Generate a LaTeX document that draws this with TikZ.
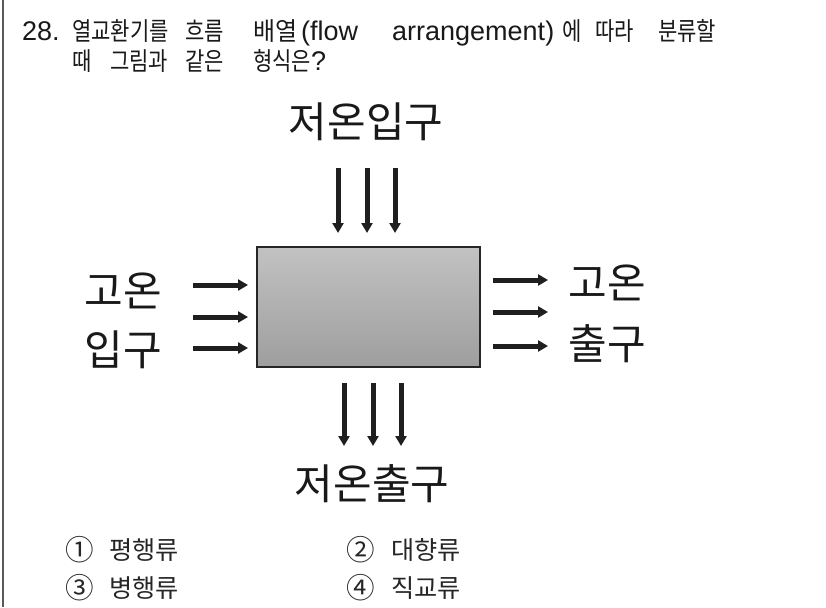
\documentclass[tikz,border=0pt]{standalone}
\usepackage{graphicx}
\usepackage{fontspec}
\setmainfont{Noto Sans CJK KR}
\newfontfamily\tlfont{Liberation Sans}
\newfontfamily\krfont{Noto Sans CJK KR}
\newcommand\tk[1]{\scalebox{0.5}[0.6]{\krfont\fontsize{42}{46}\selectfont #1}}
\newcommand\tkw[1]{\scalebox{0.57}[0.6]{\krfont\fontsize{42}{46}\selectfont #1}}
\newcommand\tko[1]{\scalebox{0.6}[0.6]{\krfont\fontsize{42}{46}\selectfont #1}}
\newcommand\tkn[1]{\scalebox{0.68}[0.68]{\krfont\fontsize{42}{46}\selectfont #1}}
\newcommand\tl[1]{{\tlfont\fontsize{27}{30}\selectfont #1}}
\newcommand\wbox[2]{\makebox[#1pt][l]{#2}}
\usetikzlibrary{arrows.meta}
\tikzset{
  flowarr/.style={draw=black!88, line width=5pt, -{Triangle[length=10pt,width=11pt]}},
  biglabel/.style={font=\krfont\fontsize{42}{46}\selectfont, inner sep=0pt, text=black!90},
  titletext/.style={inner sep=0pt, anchor=base west, text=black!90},
  optnum/.style={inner sep=0pt, text=black!85},
  opttext/.style={inner sep=0pt, anchor=west, text=black!85},
  hxbox/.style={draw=black!85, line width=2pt, minimum width=223pt, minimum height=120pt,
    shading=axis, shading angle=-25, top color=black!24, middle color=black!31, bottom color=black!38}
}
\begin{document}
\begin{tikzpicture}[x=1pt,y=-1pt]
\useasboundingbox (0,0) rectangle (826,607);
\fill[white] (0,0) rectangle (826,607);
\draw[line width=1.8pt, black!65] (3,0) -- (3,607);

% title
\node[titletext] (title1) at (22,41) {\wbox{50}{\tl{28.}}\wbox{113}{\tk{열교환기를}}\wbox{68}{\tk{흐름}}\wbox{48}{\tkw{배열}}\wbox{91}{\tl{(flow}}\wbox{170}{\tl{arrangement)}}\wbox{33}{\tk{에}}\wbox{63}{\tk{따라}}\tk{분류할}};
\node[titletext] (title2) at (72,71) {\wbox{38}{\tk{때}}\wbox{75}{\tk{그림과}}\wbox{68}{\tk{같은}}\tk{형식은}\tl{?}};

% heat exchanger body
\node[hxbox] (hx) at (368.5,307) {};

% labels
\node[biglabel] (cin) at (366,122) {저온입구};
\node[biglabel] (cout) at (372,484) {저온출구};
\node[biglabel] (hin1) at (123,291) {고온};
\node[biglabel] (hin2) at (123,350) {입구};
\node[biglabel] (hout1) at (607,283) {고온};
\node[biglabel] (hout2) at (607,344) {출구};

% cold inlet arrows
\coordinate (ci1s) at (338,168); \coordinate (ci1e) at (338,233);
\coordinate (ci2s) at (367,168); \coordinate (ci2e) at (367,233);
\coordinate (ci3s) at (395,168); \coordinate (ci3e) at (395,233);
\draw[flowarr] (ci1s) -- (ci1e);
\draw[flowarr] (ci2s) -- (ci2e);
\draw[flowarr] (ci3s) -- (ci3e);

% cold outlet arrows
\coordinate (co1s) at (344,383); \coordinate (co1e) at (344,446);
\coordinate (co2s) at (373,383); \coordinate (co2e) at (373,446);
\coordinate (co3s) at (401,383); \coordinate (co3e) at (401,446);
\draw[flowarr] (co1s) -- (co1e);
\draw[flowarr] (co2s) -- (co2e);
\draw[flowarr] (co3s) -- (co3e);

% hot inlet arrows
\coordinate (hi1s) at (193,285); \coordinate (hi1e) at (248,285);
\coordinate (hi2s) at (193,317); \coordinate (hi2e) at (248,317);
\coordinate (hi3s) at (193,348); \coordinate (hi3e) at (248,348);
\draw[flowarr] (hi1s) -- (hi1e);
\draw[flowarr] (hi2s) -- (hi2e);
\draw[flowarr] (hi3s) -- (hi3e);

% hot outlet arrows
\coordinate (ho1s) at (493,280); \coordinate (ho1e) at (548,280);
\coordinate (ho2s) at (493,312); \coordinate (ho2e) at (548,312);
\coordinate (ho3s) at (493,346); \coordinate (ho3e) at (548,346);
\draw[flowarr] (ho1s) -- (ho1e);
\draw[flowarr] (ho2s) -- (ho2e);
\draw[flowarr] (ho3s) -- (ho3e);

% options
\node[optnum] (n1) at (80,550) {\tkn{①}};
\node[opttext] (o1) at (109,550) {\tko{평행류}};
\node[optnum] (n2) at (361,550) {\tkn{②}};
\node[opttext] (o2) at (391,550) {\tko{대향류}};
\node[optnum] (n3) at (80,588) {\tkn{③}};
\node[opttext] (o3) at (109,588) {\tko{병행류}};
\node[optnum] (n4) at (361,588) {\tkn{④}};
\node[opttext] (o4) at (391,588) {\tko{직교류}};
\end{tikzpicture}
\end{document}
